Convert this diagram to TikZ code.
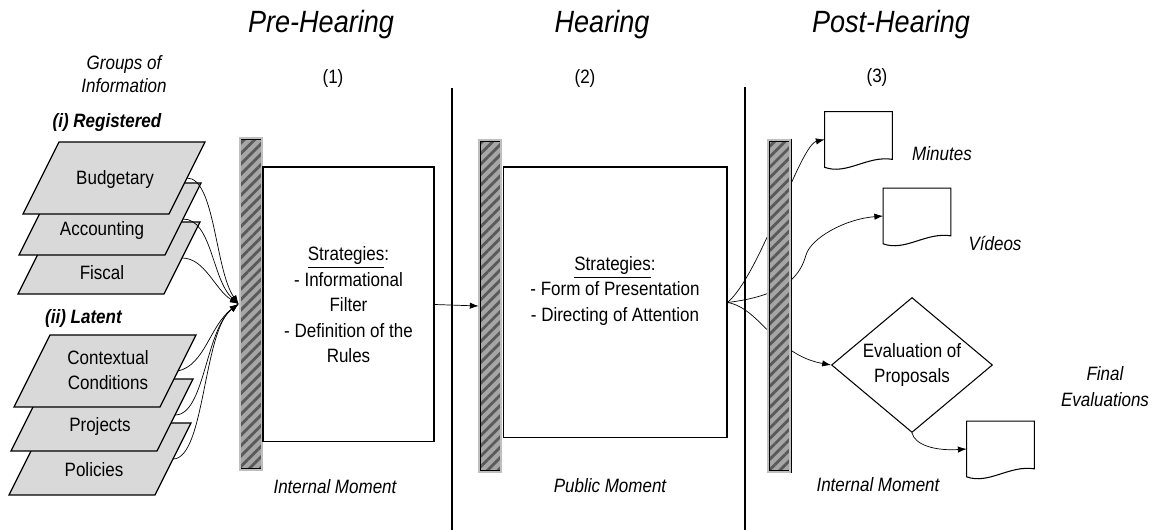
\documentclass[tikz,border=0pt]{standalone}
\usepackage{fontspec}
\setmainfont{Liberation Sans}[FakeStretch=0.88]
\usetikzlibrary{shapes.geometric,arrows.meta,patterns.meta}
\pgfdeclarelayer{background}
\pgfsetlayers{background,main}

\newcommand{\bodyfont}{\fontsize{11}{14.5}\selectfont}
% document symbol drawn round an empty node
\newcommand{\docshape}[1]{%
  \draw[line width=0.6pt, fill=white] (#1.south west) -- (#1.north west) -- (#1.north east)
    -- ([yshift=0.16cm]#1.south east)
    .. controls ([xshift=-0.5cm,yshift=0.24cm]#1.south east) and ([xshift=0.44cm,yshift=-0.16cm]#1.south west)
    .. (#1.south west) -- cycle;}

\begin{document}
\begin{tikzpicture}[
    x=0.02cm, y=0.02cm,
    font=\bodyfont,
    phase/.style={font=\fontsize{17.5}{20}\selectfont\itshape},
    note/.style={font=\bodyfont\itshape, align=center},
    grouplabel/.style={font=\bodyfont\bfseries\itshape},
    infolayer/.style={draw=black, fill=black!15, line width=0.7pt},
    hatchbar/.style={draw, line width=0.45pt, double=black!25, double distance=0.8pt,
        minimum width=0.44cm, minimum height=6.64cm, inner sep=0pt,
        preaction={fill=black!35},
        pattern={Lines[angle=45,distance=4.2pt,line width=1.6pt]}, pattern color=black!65},
    stratbox/.style={draw, fill=white, line width=0.6pt, inner sep=0pt},
    docnode/.style={minimum width=1.34cm, minimum height=1.1cm, inner sep=0pt},
    flow/.style={-{Latex[length=5pt,width=3.6pt]}, line width=0.4pt},
]
\useasboundingbox (0,0) rectangle (1153,530);

% ===== Phases =====
\node[phase] (pre) at (321,505) {Pre-Hearing};
\node[phase] (hear) at (602,505) {Hearing};
\node[phase] (post) at (891,505) {Post-Hearing};

\node (n1) at (333,451) {(1)};
\node (n2) at (585,451) {(2)};
\node (n3) at (877,452) {(3)};

\draw[line width=1.5pt] (452,442) -- (452,0);
\draw[line width=1.5pt] (745,443) -- (745,0);

% ===== Groups of information =====
\node[note, font=\fontsize{11}{13}\selectfont\itshape] (groups) at (124,455.5) {Groups of\\Information};
\node[grouplabel] (reg) at (107,407) {(i) Registered};
\node[grouplabel] (lat) at (83.5,211) {(ii) Latent};

\foreach \x/\y/\tx/\ty/\nm/\txt in {54/308/102/257/fiscal/Fiscal, 55/347/102/299/account/Accounting,
    59/388/115/350/budget/Budgetary, 45/107/94/60/policy/Policies, 47/151/100/103/project/Projects,
    50/195/108/160/context/{Contextual\\Conditions}} {
    \draw[infolayer] (\x,\y) -- ++(146,0) -- ++(-36,-72) -- ++(-146,0) -- cycle;
    \node[align=center] (\nm) at (\tx,\ty) {\txt};
    \coordinate (\nm-e) at (\x+128,\y-36);
}

% ===== Filters and strategies =====
\node[hatchbar] (bar1) at (251,226) {};
\node[hatchbar] (bar2) at (490,224) {};
\node[hatchbar] (bar3) at (779,224) {};

\node[stratbox, minimum width=3.42cm, minimum height=5.5cm] (box1) at (348.5,225.5) {};
\node[align=center] (strat1) at (348.5,225)
    {\underline{Strategies}:\\- Informational\\Filter\\- Definition of the\\Rules};
\node[stratbox, minimum width=4.48cm, minimum height=5.42cm] (box2) at (615,227.5) {};
\node[align=center] (strat2) at (615,239)
    {\underline{Strategies}:\\- Form of Presentation\\- Directing of Attention};

\node[note] (mom1) at (335,43) {Internal Moment};
\node[note] (mom2) at (610,44) {Public Moment};
\node[note] (mom3) at (878,45) {Internal Moment};

% ===== Outputs =====
\node[docnode] (minutes) at (858.5,390.5) {};
\docshape{minutes}
\node[docnode] (videos) at (917,314) {};
\docshape{videos}
\node[docnode] (final) at (1000.5,81) {};
\docshape{final}

\node[note] (minlab) at (942,376) {Minutes};
\node[note] (vidlab) at (995,287) {Vídeos};
\node[note] (finlab) at (1105,143.5) {Final\\Evaluations};

\node[diamond, draw, fill=white, line width=0.6pt, aspect=1.19, inner sep=0pt,
    minimum width=3.22cm, minimum height=2.7cm, align=center] (eval) at (912,165)
    {Evaluation of\\Proposals};

% ===== Connectors =====
\draw[flow] (budget-e) .. controls (215,352) and (215,260) .. (bar1.west);
\draw[flow] (account-e) .. controls (212,311) and (212,250) .. (bar1.west);
\draw[flow] (fiscal-e) .. controls (205,272) and (215,240) .. (bar1.west);
\draw[flow] (context-e) .. controls (205,165) and (210,205) .. (bar1.west);
\draw[flow] (project-e) .. controls (205,115) and (205,200) .. (bar1.west);
\draw[flow] (policy-e) .. controls (205,71) and (203,200) .. (bar1.west);

\draw[flow] (box1.east) -- (bar2.west);

\begin{pgfonlayer}{background}
\draw[flow] (box2.east) .. controls (760,255) and (800,385) .. (minutes.west);
\draw[flow] (box2.east) .. controls (790,235) and (801,258) .. (806,275)
    .. controls (811,292) and (845,311) .. (videos.west);
\draw[flow] (box2.east) .. controls (760,222) and (775,175) .. (eval.west);
\end{pgfonlayer}

\draw[flow] (eval.south) .. controls (915,85) and (935,79) .. (final.west);

\end{tikzpicture}
\end{document}
